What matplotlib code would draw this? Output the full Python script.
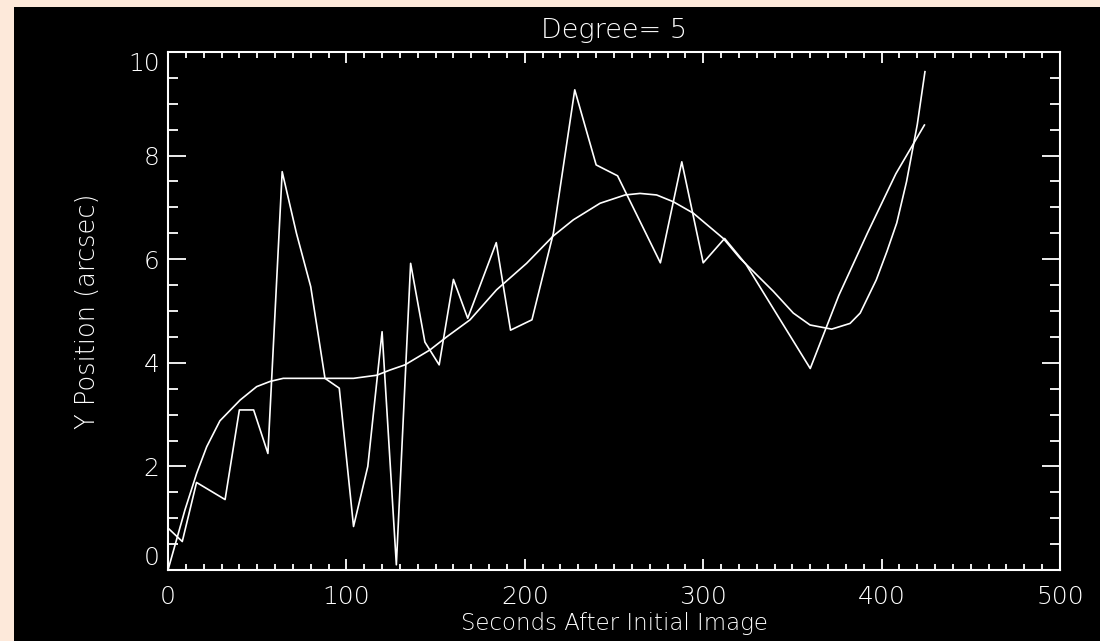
import matplotlib
matplotlib.use("Agg")
import matplotlib.pyplot as plt
from matplotlib.patches import Rectangle

# Raw measured positions
time_s = [0, 8, 16, 32, 40, 48, 56, 64, 72, 80, 88, 96, 104, 112, 120, 128,
          136, 144, 152, 160, 168, 184, 192, 204, 216, 228, 240, 252, 276,
          288, 300, 312, 324, 360, 376, 392, 408, 424]
y_pos = [0.81, 0.55, 1.69, 1.36, 3.09, 3.09, 2.25, 7.69, 6.5, 5.47, 3.70,
         3.51, 0.84, 2.0, 4.60, 0.1, 5.92, 4.4, 3.96, 5.61, 4.86, 6.32, 4.63,
         4.83, 6.5, 9.27, 7.82, 7.61, 5.93, 7.88, 5.93, 6.40, 5.9, 3.89, 5.3,
         6.5, 7.65, 8.59]

# Degree-5 polynomial fit curve
fit_t = [0, 9.5, 16.1, 21.7, 29.1, 40.4, 49.7, 57.2, 64.6, 104, 117, 124.4,
         132.8, 146.9, 156.2, 169.3, 184.2, 201, 216, 227.2, 242.2, 256.2,
         264.6, 273.9, 283.2, 294.4, 311.3, 320.6, 339.3, 350.5, 359.9, 372,
         382.3, 388, 397, 403, 408.5, 414, 420, 424.3]
fit_y = [0.0, 1.16, 1.87, 2.38, 2.88, 3.28, 3.54, 3.64, 3.70, 3.70, 3.76,
         3.86, 3.96, 4.25, 4.50, 4.83, 5.41, 5.92, 6.45, 6.76, 7.08, 7.24,
         7.27, 7.24, 7.11, 6.89, 6.40, 6.02, 5.38, 4.96, 4.73, 4.65, 4.76,
         4.96, 5.6, 6.15, 6.7, 7.5, 8.6, 9.62]

x_ticks = [0, 100, 200, 300, 400, 500]
y_ticks = [0, 2, 4, 6, 8, 10]

W, H = 1100, 641
fig = plt.figure(figsize=(W / 100, H / 100), dpi=100)
fig.patch.set_facecolor("#fde9da")
fig.patches.append(Rectangle((14 / W, 0), 1 - 14 / W, (H - 7) / H,
                             transform=fig.transFigure, facecolor="black",
                             edgecolor="none", zorder=-10))

left, right, top, bottom = 168, 1060, 52, 570
ax = fig.add_axes([left / W, (H - bottom) / H, (right - left) / W, (bottom - top) / H])
ax.set_facecolor("black")

ax.plot(time_s, y_pos, color="white", lw=1.2)
ax.plot(fit_t, fit_y, color="white", lw=1.2)

ax.set_xlim(0, 500)
ax.set_ylim(0, 10)
ax.set_xticks(x_ticks)
ax.set_yticks(y_ticks)
ax.set_xticks([v for v in range(0, 501, 10)], minor=True)
ax.set_yticks([v * 0.5 for v in range(0, 21)], minor=True)

fs = 18
for s in ax.spines.values():
    s.set_color("white")
    s.set_linewidth(1.5)
ax.tick_params(axis="both", which="both", direction="in", colors="white",
               top=True, right=True, width=1.3, labelsize=fs)
ax.tick_params(axis="x", which="major", length=7.7, pad=11)
ax.tick_params(axis="x", which="minor", length=4.3)
ax.tick_params(axis="y", which="major", length=13, pad=6)
ax.tick_params(axis="y", which="minor", length=7.2)
for lab in ax.get_xticklabels() + ax.get_yticklabels():
    lab.set_fontweight("light")

fig.canvas.draw()
ylabs = ax.get_yticklabels()
ylabs[0].set_va("bottom")
ylabs[-1].set_va("top")

ax.set_title("Degree= 5", color="white", fontsize=19.5, pad=10, fontweight="light")
ax.set_xlabel("Seconds After Initial Image", color="white", fontsize=16.5,
              labelpad=2, fontweight="light")
ax.set_ylabel("Y Position (arcsec)", color="white", fontsize=18.5, labelpad=20,
              fontweight="light")

fig.savefig("out.png", dpi=100, facecolor=fig.get_facecolor())
